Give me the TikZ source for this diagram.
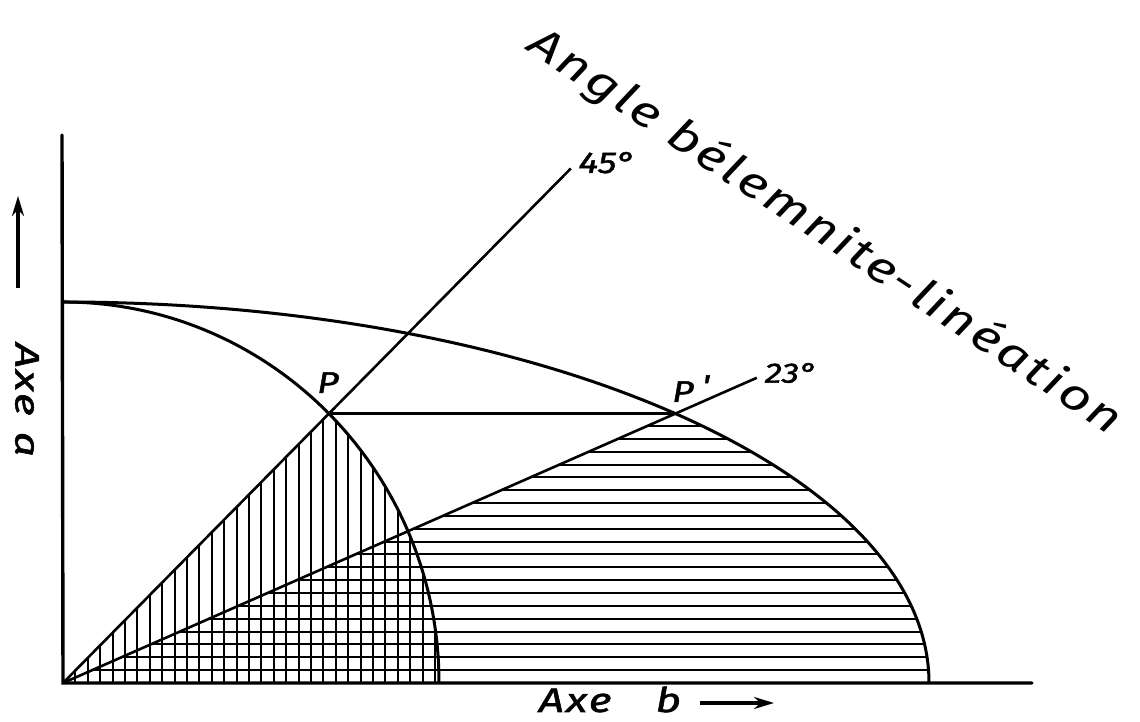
\documentclass[tikz,border=0pt]{standalone}
\usepackage{fontspec}
\setmainfont{Fira Sans}
\newfontfamily\lettering[FakeStretch=1.25,FakeBold=1.5]{Fira Sans}
\newfontfamily\titlefont[FakeStretch=1.25,LetterSpace=6]{Fira Sans}
\newfontfamily\axisfont[FakeStretch=1.3,LetterSpace=6,FakeBold=1.5]{Fira Sans}
\usetikzlibrary{arrows.meta,calc}
\begin{document}
\begin{tikzpicture}[x=1pt,y=1pt,
  axisline/.style={line width=3.4pt,line cap=round},
  curve/.style={line width=3pt},
  ray/.style={line width=2.6pt},
  hatch/.style={line width=2pt},
  arr/.style={line width=3.4pt,-{Stealth[length=20pt,width=12pt]}},
  lbl/.style={font=\lettering\itshape\fontsize{30}{32}\selectfont,inner sep=0pt},
  axlbl/.style={font=\axisfont\itshape\fontsize{34}{36}\selectfont,inner sep=0pt},
  ttl/.style={font=\titlefont\itshape\fontsize{44}{46}\selectfont,inner sep=0pt}]
\path[fill=white] (0,0) rectangle (1140,722);
\useasboundingbox (0,0) rectangle (1140,722);
% key points
\coordinate (O) at (63,39);
\coordinate (ytop) at (62,587);
\coordinate (xend) at (1032,39);
\coordinate (P) at (328.9,308.4);
\coordinate (Pp) at (675.4,308.4);
\coordinate (e45) at ($(O)!1.91!(P)$);
\coordinate (e23) at ($(O)!1.133!(Pp)$);
% vertical hatching
\begin{scope}
  \clip (O) -- (P) arc[start angle=45,end angle=0,x radius=376pt,y radius=381pt] -- cycle;
  \foreach \i in {1,...,31} \draw[hatch] ($(O)+(12.4*\i,-5)$) -- ++(0,400);
\end{scope}
% horizontal hatching
\begin{scope}
  \clip (O) -- (Pp) arc[start angle=45,end angle=0,x radius=866pt,y radius=381pt] -- cycle;
  \foreach \j in {1,...,21} \draw[hatch] ($(O)+(-5,12.85*\j)$) -- ++(950,0);
\end{scope}
% curves
\draw[curve] (63,420) arc[start angle=90,end angle=0,x radius=376pt,y radius=381pt];
\draw[curve] (63,420) arc[start angle=90,end angle=0,x radius=866pt,y radius=381pt];
% rays
\draw[ray] (O) -- (e45);
\draw[ray] (O) -- (e23);
\draw[ray] (P) -- (Pp);
% axes
\draw[axisline] (ytop) -- (O) -- (xend);
% labels
\node[lbl,anchor=base] (lP) at (328,329) {P};
\node[lbl,anchor=base west] (lPp) at (672,320) {P\hspace{8pt}\raisebox{6pt}{'}};
\node[lbl,anchor=base] (l45) at (607,549) {45°};
\node[lbl,font=\lettering\itshape\fontsize{28}{30}\selectfont] (l23) at (791,349) {23°};
% axis labels
\node[axlbl,anchor=base] (axb) at (610,10) {Axe\hspace{44pt}b};
\coordinate (bA) at (700,19);
\coordinate (bB) at (774,19);
\draw[arr] (bA) -- (bB);
\node[axlbl,rotate=-90] (axa) at (27,322) {Axe\hspace{16pt}a};
\coordinate (aA) at (18,434);
\coordinate (aB) at (18,526);
\draw[arr] (aA) -- (aB);
% title
\node[ttl,rotate=-33.4] (title) at (825,490) {Angle bélemnite-linéation};
\end{tikzpicture}
\end{document}
